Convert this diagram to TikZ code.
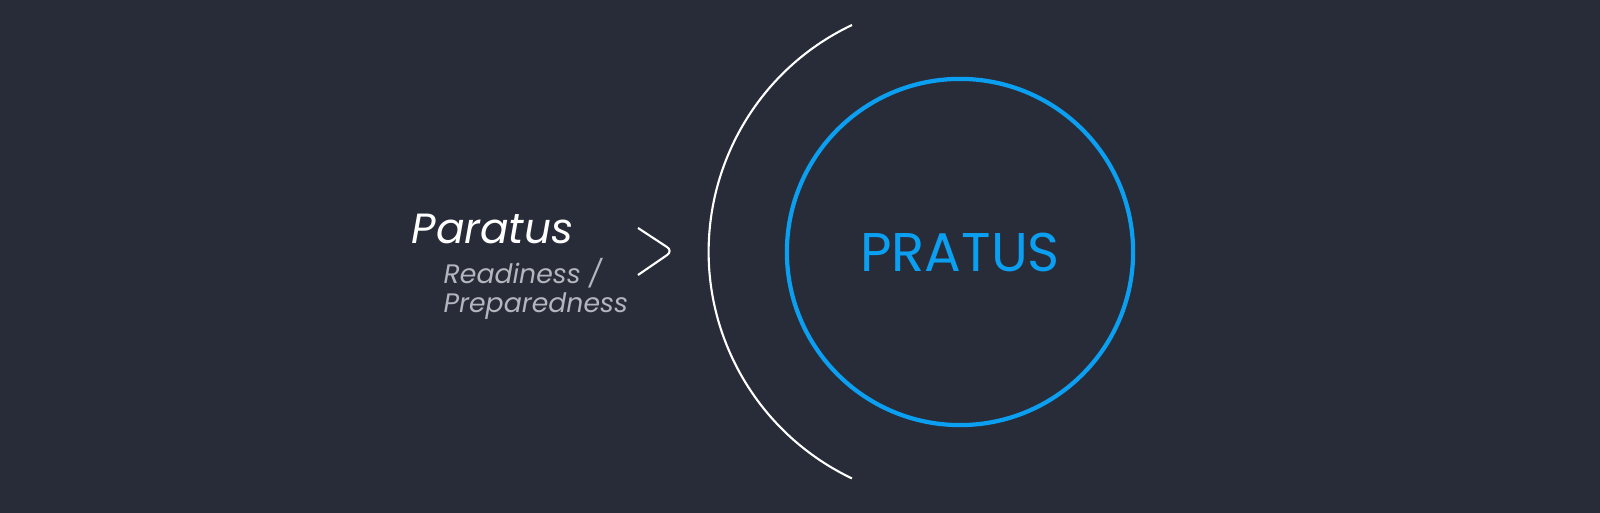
\documentclass[tikz,border=0pt]{standalone}
\usepackage{fontspec}
\setmainfont{Poppins}
\usetikzlibrary{positioning}
\definecolor{bgdark}{HTML}{282C39}
\definecolor{pratusblue}{HTML}{0A9FF0}
\definecolor{subgray}{HTML}{B4B6BE}
\tikzset{ring/.style={draw=pratusblue, line width=1.2pt, circle, minimum size=3.46cm, inner sep=0pt}}
\tikzset{guide/.style={draw=white, line width=0.6pt}}
\begin{document}
\begin{tikzpicture}[x=0.01cm,y=-0.01cm]
\fill[bgdark] (0,0) rectangle (1600,513);
\node[ring, text=pratusblue, font=\fontsize{15.5}{18}\selectfont] (pratus) at (960,252) {PRATUS};
\coordinate (arctop) at (852,25);
\draw[guide] (arctop) arc[start angle=244.6, end angle=115.4, radius=251];
\coordinate (chtop) at (638,228);
\coordinate (chtip) at (673,251);
\coordinate (chbot) at (638,275);
\draw[guide, rounded corners=2pt] (chtop) -- (chtip) -- (chbot);
\node[anchor=base west, text=white, font=\fontsize{12}{14}\itshape\selectfont, inner sep=0pt] (latin) at (411,244) {Paratus};
\node[anchor=north west, text=subgray, font=\fontsize{7.6}{8.2}\itshape\selectfont, align=left, inner sep=0pt] (meaning) at (443,258) {Readiness /\\Preparedness};
\end{tikzpicture}
\end{document}
